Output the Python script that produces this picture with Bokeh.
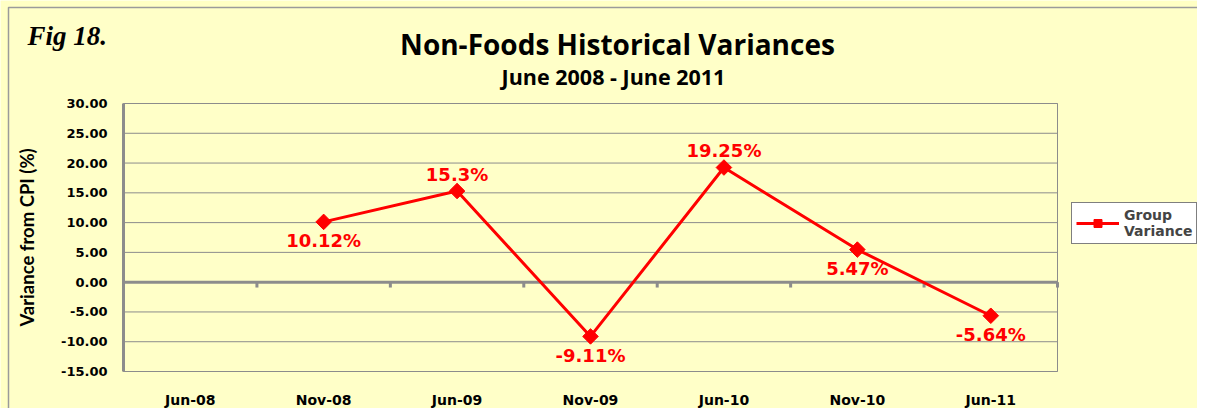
import math
from bokeh.plotting import figure
from bokeh.models import (Range1d, FixedTicker, Label, Legend, LegendItem,
                          ColumnDataSource, NumeralTickFormatter, LinearAxis)
from bokeh.core.properties import value
from bokeh.embed import file_html
from bokeh.resources import INLINE

# ---------------- data ----------------
categories = ["Jun-08", "Nov-08", "Jun-09", "Nov-09", "Jun-10", "Nov-10", "Jun-11"]
variance = [float("nan"), 10.12, 15.3, -9.11, 19.25, 5.47, -5.64]
value_labels = ["", "10.12%", "15.3%", "-9.11%", "19.25%", "5.47%", "-5.64%"]
y_ticks = [-15, -10, -5, 0, 5, 10, 15, 20, 25, 30]

BG = "#FFFFC4"
GRAY = "#8C8C8C"
RED = "#FF0000"

n = len(categories)
xs = [i + 0.5 for i in range(n)]

# ---------------- layout (pixels) ----------------
W, H = 1197, 408
PL, PR, PT, PB = 123, 1057, 103, 371          # plot area edges on the canvas
X0, X1 = 0, n
Y0, Y1 = y_ticks[0], y_ticks[-1]
kx = (PR - PL) / (X1 - X0)
ky = (PB - PT) / (Y1 - Y0)


def px_x(px):
    return X0 + (px - PL) / kx


def px_y(py):
    return Y1 - (py - PT) / ky


p = figure(width=W, height=H, output_backend="svg", toolbar_location=None,
           x_range=Range1d(px_x(0), px_x(W)), y_range=Range1d(px_y(H), px_y(0)),
           x_axis_location=None, y_axis_location=None, title_location=None,
           min_border=0, background_fill_color=BG, border_fill_color=BG,
           outline_line_color=None)
p.xgrid.visible = False
p.ygrid.visible = False

# outer chart-area border (the chart continues past the right/bottom edges)
p.quad(left=px_x(8), right=px_x(W + 20), bottom=px_y(H + 20), top=px_y(7),
       fill_color="#FFFFC8", line_color="#9A9A9A", line_width=1.5)

# grid lines and plot-area border
p.segment(x0=[X0] * len(y_ticks), y0=y_ticks, x1=[X1] * len(y_ticks), y1=y_ticks,
          line_color=GRAY, line_width=1)
p.quad(left=X0, right=X1, bottom=Y0, top=Y1, fill_color=None,
       line_color=GRAY, line_width=1)

# y axis
yaxis = LinearAxis(fixed_location=X0, bounds=(Y0, Y1),
                   ticker=FixedTicker(ticks=y_ticks),
                   formatter=NumeralTickFormatter(format="0.00"),
                   axis_line_color=GRAY, axis_line_width=3,
                   major_tick_line_color=None, minor_tick_line_color=None,
                   major_tick_out=0, major_tick_in=0,
                   minor_tick_out=0, minor_tick_in=0,
                   major_label_text_font="DejaVu Sans",
                   major_label_text_font_style="bold",
                   major_label_text_font_size="13px",
                   major_label_text_color="#000000",
                   major_label_standoff=16,
                   axis_label="Variance from CPI (%)",
                   axis_label_text_font="Lato",
                   axis_label_text_font_style="bold",
                   axis_label_text_font_size="18.5px",
                   axis_label_text_color="#000000",
                   axis_label_standoff=20)
p.add_layout(yaxis, "left")

# x axis (category labels below the plot area)
xaxis = LinearAxis(fixed_location=Y0, ticker=FixedTicker(ticks=xs),
                   major_label_overrides={x: c for x, c in zip(xs, categories)},
                   axis_line_color=None, major_tick_line_color=None,
                   minor_tick_line_color=None,
                   major_tick_out=0, major_tick_in=0,
                   minor_tick_out=0, minor_tick_in=0,
                   major_label_text_font="DejaVu Sans",
                   major_label_text_font_style="bold",
                   major_label_text_font_size="14px",
                   major_label_text_color="#000000",
                   major_label_standoff=20)
p.add_layout(xaxis, "below")

# zero line with category boundary ticks
bounds = list(range(n + 1))
p.segment(x0=[X0], y0=[0], x1=[X1], y1=[0], line_color=GRAY, line_width=3)
p.segment(x0=bounds, y0=[0] * len(bounds), x1=bounds, y1=[-0.9] * len(bounds),
          line_color=GRAY, line_width=3)

# series
src = ColumnDataSource(dict(x=xs, y=variance))
line_r = p.line("x", "y", source=src, line_color=RED, line_width=3)
mark_r = p.scatter("x", "y", source=src, marker="square", angle=math.pi / 4,
                   size=11, fill_color=RED, line_color=RED)

# value labels: above for local peaks, below otherwise
offs = []
for i, v in enumerate(variance):
    if math.isnan(v):
        offs.append(0)
        continue
    left = variance[i - 1] if i > 0 and not math.isnan(variance[i - 1]) else -1e9
    right = variance[i + 1] if i < n - 1 else -1e9
    offs.append(-17 if (v > left and v > right) else 19)
lsrc = ColumnDataSource(dict(x=xs, y=[0 if math.isnan(v) else v for v in variance],
                             lab=value_labels, off=offs))
p.text("x", "y", text="lab", source=lsrc, y_offset="off",
       text_align="center", text_baseline="middle", text_color=RED,
       text_font=value("DejaVu Sans"), text_font_style="bold", text_font_size="18px")

# legend
legend = Legend(items=[LegendItem(label="Group\nVariance", renderers=[line_r, mark_r])],
                location=(1071, H - 244), background_fill_color="white",
                background_fill_alpha=1, border_line_color="black",
                border_line_width=1, label_text_font="DejaVu Sans",
                label_text_font_style="bold", label_text_font_size="14px",
                label_text_line_height=1.55,
                glyph_width=43, padding=4, margin=0, label_standoff=5)
p.add_layout(legend, "center")

# titles
p.add_layout(Label(x=px_x(617), y=px_y(43), text="Non-Foods Historical Variances",
                   text_align="center", text_baseline="middle",
                   text_font="Open Sans", text_font_style="bold",
                   text_font_size="28px", text_color="#000000"))
p.add_layout(Label(x=px_x(613), y=px_y(76), text="June 2008 - June 2011",
                   text_align="center", text_baseline="middle",
                   text_font="Open Sans", text_font_style="bold",
                   text_font_size="21.5px", text_color="#000000"))
p.add_layout(Label(x=px_x(27), y=px_y(35), text="Fig 18.",
                   text_align="left", text_baseline="middle",
                   text_font="Liberation Serif", text_font_style="bold italic",
                   text_font_size="27px", text_color="#000000"))

open("out.html", "w").write(file_html(p, INLINE))
